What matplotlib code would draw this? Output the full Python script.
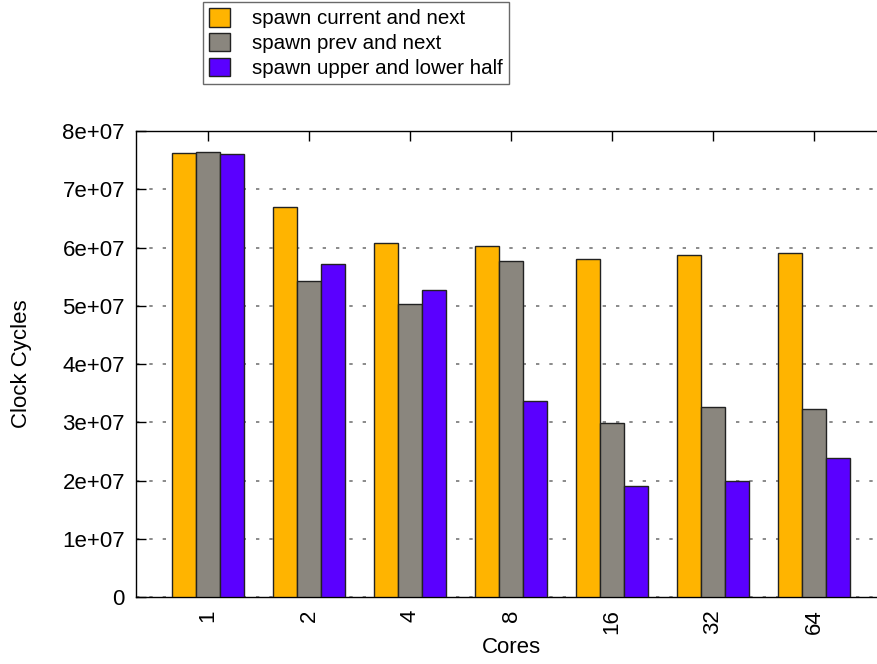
import numpy as np
import matplotlib.pyplot as plt

plt.rcParams['font.family'] = ['Liberation Sans', 'DejaVu Sans']

# --- data ---
cores = ["1", "2", "4", "8", "16", "32", "64"]
current_next = [7.62e7, 6.70e7, 6.08e7, 6.03e7, 5.80e7, 5.87e7, 5.91e7]
prev_next = [7.64e7, 5.43e7, 5.03e7, 5.77e7, 2.99e7, 3.26e7, 3.23e7]
upper_lower = [7.61e7, 5.72e7, 5.27e7, 3.36e7, 1.91e7, 1.99e7, 2.39e7]

series = [
    ("spawn current and next", current_next, "#FFB400"),
    ("spawn prev and next", prev_next, "#8A867E"),
    ("spawn upper and lower half", upper_lower, "#5A00FF"),
]

fig = plt.figure(figsize=(8.77, 6.64), dpi=100)
# axes runs off the right edge, like the original
ax = fig.add_axes([0.1551, 0.1009, 0.8552, 0.7018])

x = np.arange(len(cores))
width = 0.24
bars = []
for i, (label, vals, color) in enumerate(series):
    b = ax.bar(x + (i - 1) * width, vals, width, color=color,
               edgecolor="#222222", linewidth=1.0, label=label, zorder=3)
    bars.append(b)

ax.set_xlim(-0.713, len(cores) - 1 + 0.713)
ax.set_ylim(0, 8e7)
ax.set_yticks(np.arange(0, 8.1e7, 1e7))
ax.set_yticklabels(["0"] + [f"{k}e+07" for k in range(1, 9)])
ax.set_xticks(x)
ax.set_xticklabels(cores, rotation=90)

ax.tick_params(axis="both", direction="in", length=7, width=1,
               top=True, right=False, labelsize=16)
ax.tick_params(axis="y", pad=8)
ax.tick_params(axis="x", pad=9)
ax.grid(axis="y", color="#777777", linestyle=(0, (2, 6)), linewidth=1.2, zorder=0)
for s in ax.spines.values():
    s.set_linewidth(1.0)

ax.set_xlabel("Cores", fontsize=16, labelpad=2)
ax.set_ylabel("Clock Cycles", fontsize=16, labelpad=22)

leg = fig.legend(handles=bars, loc="upper left",
                 bbox_to_anchor=(203 / 877, 1 - 2 / 664), borderaxespad=0,
                 fontsize=14.8, frameon=True, fancybox=False,
                 handlelength=1.0, handleheight=1.0, handletextpad=1.1,
                 labelspacing=0.22, borderpad=0.3, edgecolor="#444444")
leg.get_frame().set_linewidth(1.0)

fig.savefig("out.png", dpi=100)
